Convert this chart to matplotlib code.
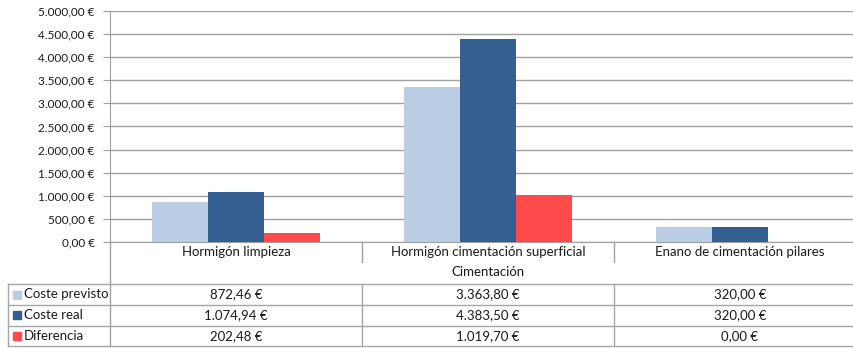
import matplotlib.pyplot as plt
import matplotlib.patches as mpatches

plt.rcParams['font.family'] = ['Lato', 'DejaVu Sans']

categories = ['Hormigón limpieza', 'Hormigón cimentación superficial', 'Enano de cimentación pilares']
group_label = 'Cimentación'
series_names = ['Coste previsto', 'Coste real', 'Diferencia']
coste_previsto = [872.46, 3363.80, 320.00]
coste_real = [1074.94, 4383.50, 320.00]
diferencia = [202.48, 1019.70, 0.00]
yticks = [0, 500, 1000, 1500, 2000, 2500, 3000, 3500, 4000, 4500, 5000]

colors = ['#B9CDE5', '#365F91', '#FF4B4B']
grid_col = '#A0A0A0'
line_col = '#A6A6A6'
txt_col = '#1A1A1A'
fs = 9.5
fs_tick = 8.5


def euro(v):
    s = f"{v:,.2f}".replace(',', 'X').replace('.', ',').replace('X', '.')
    return s + ' €'


W, H = 854, 348
fig = plt.figure(figsize=(W / 100, H / 100), dpi=100)

# plot area in pixel terms: x from 110, 252 px per category; y from 11 (top) to 242 (zero)
x0, cat_w, y_top, y_zero = 110, 252, 11, 242
ax = fig.add_axes([x0 / W, (H - y_zero) / H, 3 * cat_w / W, (y_zero - y_top) / H])

bw = 56 / cat_w
series = [coste_previsto, coste_real, diferencia]
for i, vals in enumerate(series):
    xs = [c + 0.5 + (i - 1) * bw for c in range(len(categories))]
    ax.bar(xs, vals, width=bw, color=colors[i], zorder=3)

ax.set_xlim(0, 3)
ax.set_ylim(0, 5000)
ax.set_yticks(yticks)
ax.set_yticklabels([euro(v) for v in yticks], fontsize=fs_tick, color=txt_col)
ax.set_xticks([])
ax.yaxis.grid(True, color=grid_col, linewidth=1, zorder=0)
ax.tick_params(axis='y', length=5, color=grid_col, pad=6)
for s in ['top', 'right']:
    ax.spines[s].set_visible(False)
ax.spines['left'].set_color(grid_col)
ax.spines['bottom'].set_color(grid_col)

# overlay in pixel coordinates for the category row and data table
ov = fig.add_axes([0, 0, 1, 1])
ov.set_xlim(0, W)
ov.set_ylim(H, 0)
ov.axis('off')
ov.patch.set_alpha(0)

lw = 1
# axis line continues down through label rows and table
ov.plot([x0, x0], [y_zero, 346], color=grid_col, lw=lw)
for c, name in enumerate(categories):
    cx = x0 + (c + 0.5) * cat_w
    ov.text(cx, 252, name, ha='center', va='center', fontsize=fs, color=txt_col)
    if c > 0:
        ov.plot([x0 + c * cat_w] * 2, [y_zero, 262], color=grid_col, lw=lw)
ov.text(x0 + 1.5 * cat_w, 272, group_label, ha='center', va='center', fontsize=fs, color=txt_col)

# table
row_y = [284, 305, 325.5, 346]
for y in row_y:
    ov.plot([8, W], [y, y], color=line_col, lw=lw)
ov.plot([8, 8], [row_y[0], row_y[-1]], color=line_col, lw=lw)
for c in range(1, 3):
    ov.plot([x0 + c * cat_w] * 2, [row_y[0], row_y[-1]], color=line_col, lw=lw)

for r, (name, vals) in enumerate(zip(series_names, series)):
    yc = (row_y[r] + row_y[r + 1]) / 2
    ov.add_patch(mpatches.Rectangle((13, yc - 4), 8, 8, color=colors[r]))
    ov.text(24, yc, name, ha='left', va='center', fontsize=fs, color=txt_col)
    for c, v in enumerate(vals):
        ov.text(x0 + (c + 0.5) * cat_w, yc, euro(v), ha='center', va='center',
                fontsize=fs, color=txt_col)

fig.savefig('out.png', dpi=100)
